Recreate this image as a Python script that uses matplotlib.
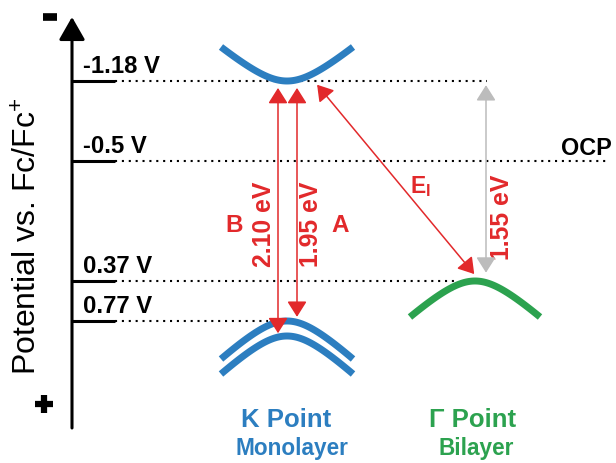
import numpy as np
import matplotlib
matplotlib.use("Agg")
import matplotlib.pyplot as plt
from matplotlib.patches import FancyArrowPatch

plt.rcParams["font.family"] = ["Liberation Sans", "DejaVu Sans"]
plt.rcParams["mathtext.fontset"] = "custom"
plt.rcParams["mathtext.rm"] = "Liberation Sans"
plt.rcParams["mathtext.bf"] = "Liberation Sans:bold"

# band edge potentials, V vs Fc/Fc+
level_v = [-1.18, -0.5, 0.37, 0.77]
level_labels = ["-1.18 V", "-0.5 V", "0.37 V", "0.77 V"]
cb_k = -1.18        # K point conduction band minimum
vb_k_a = 0.77       # K point upper valence band
vb_k_b = 0.92       # K point lower (spin-orbit split) valence band
vb_gamma = 0.37     # Gamma point valence band maximum, bilayer
ocp = -0.5

# schematic (not to scale) row of each level on the drawing
level_rows = [81, 161, 281, 321]
dotted_ends = [487, 607, 458, 268]

red = "#e2292b"
blue = "#2c7ec0"
green = "#2ca24f"
grey = "#bcbcbc"

kv = np.array(level_v)
kr = np.array(level_rows, float)
slope_top = (kr[1] - kr[0]) / (kv[1] - kv[0])
slope_bot = (kr[-1] - kr[-2]) / (kv[-1] - kv[-2])


def to_row(v):
    v = np.asarray(v, float)
    r = np.interp(v, kv, kr)
    r = np.where(v < kv[0], kr[0] + (v - kv[0]) * slope_top, r)
    r = np.where(v > kv[-1], kr[-1] + (v - kv[-1]) * slope_bot, r)
    return r


def to_v(r):
    r = np.asarray(r, float)
    v = np.interp(r, kr, kv)
    v = np.where(r < kr[0], kv[0] + (r - kr[0]) / slope_top, v)
    v = np.where(r > kr[-1], kv[-1] + (r - kr[-1]) / slope_bot, v)
    return v


def band(x0, half, depth, v0, sign, w=35.0):
    dx = np.linspace(-half, half, 120)
    shape = (np.sqrt(dx ** 2 + w ** 2) - w) / (np.sqrt(half ** 2 + w ** 2) - w)
    rows = to_row(v0) + sign * depth * shape
    return x0 + dx, to_v(rows)


fig = plt.figure(figsize=(6.16, 4.63), dpi=100)
ax = fig.add_axes([0, 0, 1, 1])
ax.set_yscale("function", functions=(to_row, to_v))
ax.set_xlim(0, 616)
ax.set_ylim(float(to_v(463)), float(to_v(0)))
ax.axis("off")

# potential axis
ax.add_patch(FancyArrowPatch((72, float(to_v(428))), (72, float(to_v(17))),
                             arrowstyle="-|>,head_length=14,head_width=8",
                             color="black", lw=2.2, shrinkA=0, shrinkB=0))
ax.plot([43, 57], to_v([17, 17]), color="black", lw=5.5, solid_capstyle="butt")
ax.plot([35, 53], to_v([404, 404]), color="black", lw=4.5, solid_capstyle="butt")
ax.plot([44, 44], to_v([395, 413]), color="black", lw=4.5, solid_capstyle="butt")
ax.text(37, float(to_v(236)), r"Potential vs. Fc/Fc$^{+}$", rotation=90,
        rotation_mode="anchor", ha="center", va="baseline", fontsize=23)

# levels
for v, lab, row, xend in zip(level_v, level_labels, level_rows, dotted_ends):
    ax.plot([72, 115], [v, v], color="black", lw=2.2, solid_capstyle="butt")
    ax.plot([115, xend], [v, v], color="black", lw=1.5, ls=(0, (1, 2.3)))
    ax.text(83, float(to_v(row - 8)), lab, fontsize=17.2, fontweight="bold",
            ha="left", va="baseline")
ax.text(612, float(to_v(155)), "OCP", fontsize=16.8, fontweight="bold",
        ha="right", va="baseline")

# bands
ax.plot(*band(287, 66, 34, cb_k, -1), color=blue, lw=5, solid_capstyle="butt", zorder=3)
ax.plot(*band(287, 66, 38, vb_k_a, 1), color=blue, lw=5, solid_capstyle="butt", zorder=3)
ax.plot(*band(287, 66, 38, vb_k_b, 1), color=blue, lw=5, solid_capstyle="butt", zorder=3)
ax.plot(*band(475, 65, 36, vb_gamma, 1), color=green, lw=5, solid_capstyle="butt", zorder=3)


def transition(xa, va, xb, vb, color, sa, sb):
    ax.add_patch(FancyArrowPatch((xa, va), (xb, vb),
                                 arrowstyle="<|-|>,head_length=9.5,head_width=6",
                                 color=color, lw=1.1, shrinkA=sa, shrinkB=sb,
                                 zorder=4))


e_b = vb_k_b - cb_k
e_a = vb_k_a - cb_k
e_i = vb_gamma - cb_k

transition(278, cb_k, 278, vb_k_b, red, 5, 2)
transition(297, cb_k, 297, vb_k_a, red, 5, 3)
transition(314, cb_k, 480, vb_gamma, red, 3.5, 6.5)
transition(486, cb_k, 486, vb_gamma, grey, 3, 6)

lab_kw = dict(color=red, fontweight="bold", ha="center", va="center")
ax.text(264, float(to_v(224)), f"{e_b:.2f} eV", rotation=90, fontsize=17.8, **lab_kw)
ax.text(311, float(to_v(224)), f"{e_a:.2f} eV", rotation=90, fontsize=17.8, **lab_kw)
ax.text(502, float(to_v(217)), f"{e_i:.2f} eV", rotation=90, fontsize=17.8, **lab_kw)
ax.text(234, float(to_v(225)), "B", fontsize=17.5, **lab_kw)
ax.text(340, float(to_v(225)), "A", fontsize=17.5, **lab_kw)
ax.text(420, float(to_v(187)), r"$\mathbf{E_I}$", fontsize=16.5, **lab_kw)

# k-point captions
ax.text(286, float(to_v(427)), "K Point", color=blue, fontsize=18.5,
        fontweight="bold", ha="center", va="baseline")
ax.text(292, float(to_v(455)), "Monolayer", color=blue, fontsize=16.3,
        fontweight="bold", ha="center", va="baseline")
ax.text(473, float(to_v(427)), "\u0393 Point", color=green, fontsize=18.5,
        fontweight="bold", ha="center", va="baseline")
ax.text(476, float(to_v(455)), "Bilayer", color=green, fontsize=16.3,
        fontweight="bold", ha="center", va="baseline")

fig.savefig("out.png", dpi=100)
